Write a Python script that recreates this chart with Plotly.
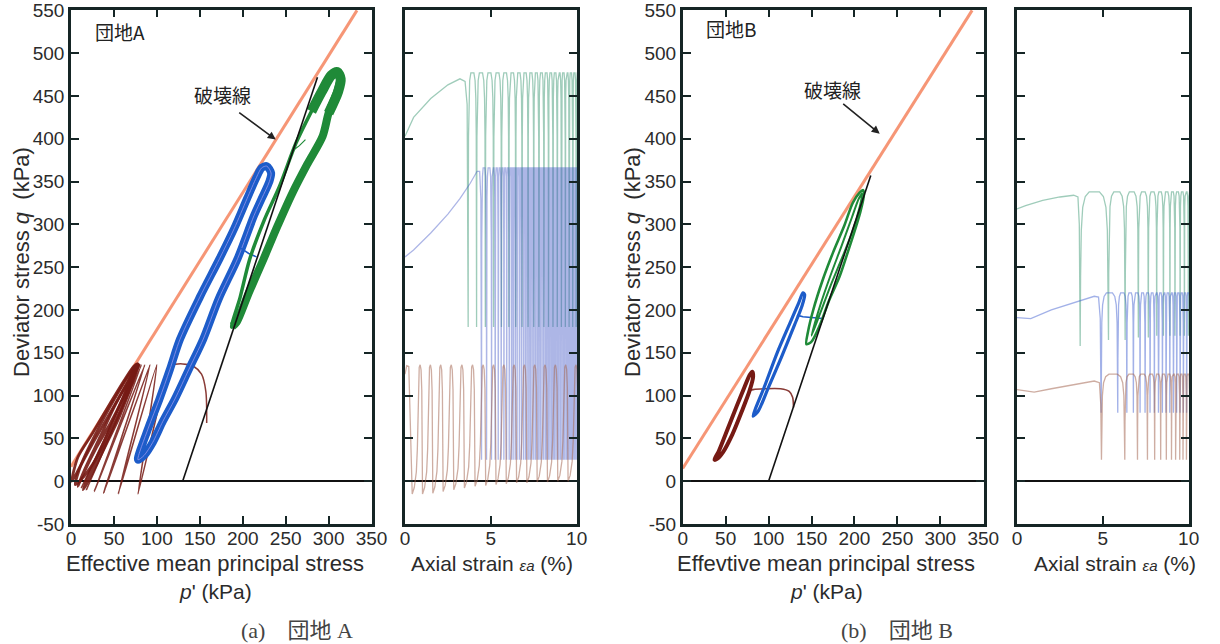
import plotly.graph_objects as go

W, H = 1220, 644

# ------------------------------------------------------------------ data
# failure line and total stress path (p', q)
failA_p = [0, 333]; failA_q = [17, 550]
failB_p = [0, 337]; failB_q = [15, 550]
tspA_p = [130, 287]; tspA_q = [0, 472]
tspB_p = [100, 219]; tspB_q = [0, 357]

# ---- site A, p'-q plane
greenA_p = [187, 197, 208, 225, 243, 262, 280, 295, 303, 310, 314, 310, 300, 293, 275, 258, 240, 224, 207, 193, 187]
greenA_q = [180, 215, 259, 305, 345, 395, 432, 460, 476, 478, 470, 455, 430, 403, 370, 337, 297, 259, 220, 186, 180]
greenA_band_p = [314, 310, 300, 293, 275, 258, 240, 224, 207, 193, 188]
greenA_band_q = [470, 455, 430, 403, 370, 337, 297, 259, 220, 186, 181]
greenA_top_p = [280, 292, 303, 310, 314, 311, 300]
greenA_top_q = [432, 455, 474, 478, 470, 455, 430]
greenA_init_p = [258, 266, 273]
greenA_init_q = [386, 392, 399]

blueA_p = [78, 90, 103, 115, 127, 150, 173, 190, 205, 216, 222, 228, 233, 231, 222, 213, 194, 172, 154, 137, 121, 107, 95, 85, 78]
blueA_q = [25, 62, 96, 130, 166, 215, 260, 295, 330, 355, 366, 368, 360, 350, 330, 310, 260, 213, 166, 130, 96, 70, 45, 30, 25]
blueA_init_p = [216, 207, 198]
blueA_init_q = [262, 266, 272]

# first cycles: arch from the consolidation line, then bottoms moving toward the origin
brownA_init_p = [158, 157, 152, 143, 130, 117, 110]
brownA_init_q = [68, 105, 125, 134, 137, 135, 122]
brownA_bot_p = [78, 55, 38, 27, 18, 12]
brownA_bot_q = [-15, -15, -14, -12, -10, -8]
brownA_top_p = [100, 92, 86, 82, 80]
brownA_top_q = 136
# stabilised loops (cyclic mobility) near the origin
brownA_l1_p = [14, 22, 38, 55, 68, 76, 79, 76, 66, 55, 42, 30, 20, 14]
brownA_l1_q = [-10, 10, 45, 85, 115, 134, 136, 128, 100, 72, 45, 20, 0, -10]
brownA_l2_p = [5, 12, 30, 50, 66, 75, 78, 74, 63, 50, 36, 22, 10, 5]
brownA_l2_q = [-4, 20, 58, 95, 122, 135, 137, 126, 96, 66, 38, 15, 0, -4]
brownA_l3_p = [1, 8, 25, 45, 62, 73, 77, 70, 56, 40, 24, 10, 1]
brownA_l3_q = [0, 28, 56, 90, 118, 134, 137, 122, 98, 70, 42, 16, 0]
brownA_l4_p = [8, 16, 34, 52, 67, 76, 78, 72, 60, 46, 30, 16, 8]
brownA_l4_q = [-6, 14, 52, 90, 118, 135, 136, 124, 96, 68, 40, 12, -6]

# ---- site B, p'-q plane
greenB_p = [144, 146, 152, 163, 175, 188, 198, 206, 210, 211, 207, 202, 193, 183, 170, 160, 150, 144]
greenB_q = [160, 175, 200, 235, 267, 298, 325, 337, 340, 335, 315, 298, 270, 240, 210, 183, 163, 160]
greenB_in_p = [150, 160, 172, 185, 197, 205, 209, 206, 197, 186, 172, 160, 150]
greenB_in_q = [170, 205, 240, 275, 308, 330, 336, 320, 290, 262, 228, 196, 170]

blueB_p = [82, 95, 110, 125, 135, 140, 142, 139, 130, 115, 100, 88, 82]
blueB_q = [76, 110, 150, 185, 208, 220, 218, 205, 182, 145, 110, 82, 76]
blueB_init_p = [163, 155, 140, 133]
blueB_init_q = [190, 191, 192, 194]

brownB_p = [37, 42, 52, 63, 72, 78, 81, 82, 78, 69, 58, 47, 40, 37]
brownB_q = [25, 35, 60, 88, 110, 124, 128, 122, 106, 82, 55, 34, 26, 25]
brownB_init_p = [129, 128, 124, 114, 95, 82, 78]
brownB_init_q = [86, 98, 105, 108, 108, 107, 106]

# ---- site A, axial strain (%) vs q
gA_init_s = [0, 0.5, 1.5, 2.5, 3.2, 3.5, 3.62]
gA_init_q = [403, 425, 447, 463, 470, 467, 440]
gA_trough_s = [3.68, 4.17, 4.68, 5.16, 5.62, 6.05, 6.45, 6.82, 7.17, 7.5, 7.8, 8.09, 8.36,
               8.62, 8.87, 9.11, 9.34, 9.56, 9.77, 9.97, 10.17]
gA_lo = 180; gA_hi = 477

bA_init_s = [0, 0.5, 1.5, 2.5, 3.2, 3.8, 4.2, 4.35, 4.42]
bA_init_q = [262, 270, 290, 312, 330, 348, 362, 362, 330]
bA_trough_s = [4.46, 4.75, 5.04, 5.25, 5.43, 5.6, 5.76, 5.92, 6.07, 6.2, 6.3, 6.42, 6.53, 6.66,
               6.78, 6.9, 7.01, 7.11, 7.21, 7.3, 7.4, 7.5, 7.6, 7.7, 7.79, 7.88, 7.98, 8.08,
               8.18, 8.26, 8.35, 8.44, 8.53, 8.62, 8.7, 8.79, 8.88, 8.96, 9.05, 9.14, 9.23,
               9.31, 9.4, 9.47, 9.55, 9.63, 9.71, 9.79, 9.87, 9.95, 10.03]
bA_lo = 25; bA_hi = 366

rA_init_s = [0, 0.1, 0.22, 0.34]
rA_init_q = [125, 135, 134, 60]
rA_trough_s = [0.42, 1.02, 1.62, 2.22, 2.84, 3.46, 4.08, 4.7, 5.3, 5.9, 6.5, 7.1, 7.7,
               8.3, 8.9, 9.5, 10.1]
rA_trough_q = [-15, -15, -14, -12, -10, -8, -6, -5, -4, -3, -2, -2, -1, -1, 0, 0, 0]
rA_hi = 136

# ---- site B, axial strain (%) vs q
gB_init_s = [0, 0.5, 1.5, 2.5, 3.3, 3.55, 3.63]
gB_init_q = [318, 322, 328, 332, 334, 332, 300]
gB_trough_s = [3.68, 5.33, 6.3, 7.07, 7.65, 8.14, 8.53, 8.91, 9.2, 9.5, 9.75, 9.98, 10.2]
gB_trough_q = [158, 165, 165, 168, 168, 170, 170, 170, 170, 170, 170, 170, 170]
gB_hi = 338

bB_init_s = [0, 0.8, 2, 3.5, 4.5, 4.75, 4.85]
bB_init_q = [191, 190, 200, 210, 216, 215, 190]
bB_trough_s = [4.9, 5.87, 6.4, 6.78, 7.17, 7.46, 7.75, 8.0, 8.24, 8.47, 8.68, 8.9, 9.11,
               9.3, 9.5, 9.69, 9.88, 10.07]
bB_lo = 80; bB_hi = 220

rB_init_s = [0, 1, 2, 3.5, 4.5, 4.8, 4.88]
rB_init_q = [107, 104, 108, 113, 117, 115, 90]
rB_trough_s = [4.92, 6.28, 7.02, 7.6, 8.02, 8.37, 8.7, 9.0, 9.24, 9.48, 9.67, 9.87, 10.06]
rB_lo = 25; rB_hi = 125

yticks = [-50, 0, 50, 100, 150, 200, 250, 300, 350, 400, 450, 500, 550]
ytick_text = ['-50', '0', '50', '100', '150', '200', '250', '300', '350', '400', '450', '500', '550']
pticks = [0, 50, 100, 150, 200, 250, 300, 350]
sticks = [0, 5, 10]

# ------------------------------------------------------------------ drawing helpers
# normalised outline of one load cycle between two troughs (drawing template)
ARCH = [(0, 0), (0.015, 0.45), (0.04, 0.75), (0.09, 0.9), (0.18, 0.97), (0.32, 1.0), (0.5, 1.0),
        (0.68, 1.0), (0.82, 0.97), (0.91, 0.9), (0.96, 0.75), (0.985, 0.45)]
RELOAD = [(0, 0), (0.2, 0.05), (0.4, 0.17), (0.5, 0.35), (0.55, 0.6), (0.6, 0.85), (0.68, 0.98),
          (0.77, 1.0), (0.86, 0.96), (0.93, 0.8), (0.97, 0.5)]


def cycles(init_s, init_q, troughs, lo, hi, tmpl):
    lo_list = lo if isinstance(lo, list) else [lo] * len(troughs)
    s, q = list(init_s), list(init_q)
    for i in range(len(troughs) - 1):
        t0, t1 = troughs[i], troughs[i + 1]
        w = t1 - t0
        a, b = lo_list[i], hi
        for fx, fq in tmpl:
            s.append(t0 + fx * w)
            q.append(a + fq * (b - a))
    s.append(troughs[-1]); q.append(lo_list[-1])
    return s, q


def fan(init_p, init_q, bot_p, bot_q, top_p, top_q):
    p, q = list(init_p), list(init_q)
    for i in range(len(bot_p)):
        p.append(bot_p[i]); q.append(bot_q[i])
        if i < len(top_p):
            p.append(top_p[i]); q.append(top_q)
    return p, q


fig = go.Figure()


def add(x, y, ax, color, width, shape='linear', smoothing=1.0, opacity=1.0):
    n = '' if ax == 1 else str(ax)
    fig.add_trace(go.Scatter(x=x, y=y, xaxis='x' + n, yaxis='y' + n, mode='lines',
                             line=dict(color=color, width=width, shape=shape, smoothing=smoothing),
                             opacity=opacity, hoverinfo='skip', showlegend=False))


FAIL = 'rgb(246,150,118)'
BLACK = '#111'
BROWN = '#761a14'
BLUE = '#1d5cc9'
GREEN = '#1f8a38'

# ---- panel A p'-q
add(failA_p, failA_q, 1, FAIL, 3)
add(brownA_init_p, brownA_init_q, 1, BROWN, 1.5, 'spline', 0.8, 0.85)
bp, bq = fan([], [], brownA_bot_p, brownA_bot_q, brownA_top_p, brownA_top_q)
add([brownA_init_p[-1]] + bp, [brownA_init_q[-1]] + bq, 1, BROWN, 1.6, 'spline', 0.4, 0.85)
for lp, lq in ((brownA_l1_p, brownA_l1_q), (brownA_l4_p, brownA_l4_q),
               (brownA_l2_p, brownA_l2_q), (brownA_l3_p, brownA_l3_q)):
    add(lp, lq, 1, BROWN, 2.8, 'spline', 0.8, 0.9)
add(blueA_p, blueA_q, 1, BLUE, 8, 'spline', 0.8)
add(blueA_p, blueA_q, 1, 'rgba(150,150,235,0.8)', 1, 'spline', 0.8)
add(blueA_init_p, blueA_init_q, 1, BLUE, 1.5)
add(greenA_p, greenA_q, 1, GREEN, 3.5, 'spline', 0.8)
add(greenA_band_p, greenA_band_q, 1, GREEN, 8, 'spline', 0.8)
add(greenA_top_p, greenA_top_q, 1, GREEN, 10, 'spline', 0.8)
add(greenA_init_p, greenA_init_q, 1, GREEN, 1.2)
add(tspA_p, tspA_q, 1, BLACK, 1.6)

# ---- panel A strain
s, q = cycles(gA_init_s, gA_init_q, gA_trough_s, gA_lo, gA_hi, ARCH)
add(s, q, 2, 'rgba(95,170,140,0.6)', 1.3)
s, q = cycles(bA_init_s, bA_init_q, bA_trough_s, bA_lo, bA_hi, ARCH)
add(s, q, 2, 'rgba(60,80,195,0.42)', 1.3)
s, q = cycles(rA_init_s, rA_init_q, rA_trough_s, rA_trough_q, rA_hi, RELOAD)
add(s, q, 2, 'rgba(165,105,85,0.55)', 1.3)

# ---- panel B p'-q
add(failB_p, failB_q, 3, FAIL, 3)
add(brownB_init_p, brownB_init_q, 3, BROWN, 1.6, 'spline', 0.8, 0.85)
add(brownB_p, brownB_q, 3, BROWN, 4, 'spline', 0.8)
add(blueB_init_p, blueB_init_q, 3, BLUE, 1.6)
add(blueB_p, blueB_q, 3, BLUE, 3.2, 'spline', 0.8)
add(greenB_p, greenB_q, 3, GREEN, 2.6, 'spline', 0.8)
add(greenB_in_p, greenB_in_q, 3, GREEN, 2, 'spline', 0.8)
add(tspB_p, tspB_q, 3, BLACK, 1.6)

# ---- panel B strain
s, q = cycles(gB_init_s, gB_init_q, gB_trough_s, gB_trough_q, gB_hi, ARCH)
add(s, q, 4, 'rgba(95,170,140,0.6)', 1.3)
s, q = cycles(bB_init_s, bB_init_q, bB_trough_s, bB_lo, bB_hi, ARCH)
add(s, q, 4, 'rgba(70,100,210,0.5)', 1.3)
s, q = cycles(rB_init_s, rB_init_q, rB_trough_s, rB_lo, rB_hi, ARCH)
add(s, q, 4, 'rgba(165,105,85,0.55)', 1.3)

# ------------------------------------------------------------------ axes
AX = '#152525'
TF = dict(family='Liberation Sans, Arial, sans-serif', size=19, color='#2b2b2b')
ydom = [1 - 524 / H, 1 - 9.5 / H]
common = dict(showline=True, linecolor=AX, linewidth=2.6, mirror='ticks', ticks='inside',
              ticklen=8, tickwidth=2, tickcolor=AX, showgrid=False, tickfont=TF,
              fixedrange=True, automargin=False)
xdoms = [[71 / W, 372 / W], [405 / W, 577 / W], [682.7 / W, 983.7 / W], [1017 / W, 1189 / W]]
lay = {}
for i in range(4):
    n = '' if i == 0 else str(i + 1)
    pq = i in (0, 2)
    lay['xaxis' + n] = dict(common, domain=xdoms[i], anchor='y' + n,
                            range=[0, 350.5] if pq else [0, 10.02],
                            tickvals=pticks if pq else sticks, zeroline=False,
                            ticklabelstandoff=-5)
    lay['yaxis' + n] = dict(common, domain=ydom, anchor='x' + n, range=[-50, 551],
                            tickvals=yticks, ticktext=ytick_text, showticklabels=pq,
                            zeroline=True, zerolinecolor=BLACK, zerolinewidth=2)

fig.update_layout(width=W, height=H, margin=dict(l=0, r=0, t=0, b=0, autoexpand=False),
                  paper_bgcolor='white', plot_bgcolor='white', **lay)

# ------------------------------------------------------------------ text
TXT = '#2b2b2b'
SANS = 'Liberation Sans, Arial, Noto Sans CJK JP, sans-serif'
CJK = 'Noto Sans CJK JP, sans-serif'
SERIF = 'Liberation Serif, Noto Sans CJK JP, serif'


def note(text, px, py, size=20, family=SANS, angle=0, xanchor='center', color=TXT):
    fig.add_annotation(text=text, x=px / W, y=1 - py / H, xref='paper', yref='paper',
                       showarrow=False, xanchor=xanchor, yanchor='middle', textangle=angle,
                       font=dict(family=family, size=size, color=color))


for cx, lab in ((215, 'Effective mean principal stress'), (826, 'Effevtive mean principal stress')):
    note(lab, cx, 563, size=22)
    note('<i>p</i>\' (kPa)', cx, 591, size=21)
for cx in (492, 1115):
    note("Axial strain <i><span style='font-size:15px'>εa</span></i> (%)", cx, 563, size=21)
for cx in (22, 633):
    note('Deviator stress <i>q</i>  (kPa)', cx, 262, size=22, angle=-90)

note('団地A', 93, 31, size=19, family=CJK, xanchor='left', color='#222')
note('団地B', 704, 29, size=19, family=CJK, xanchor='left', color='#222')
note('破壊線', 222, 95, size=19, family=CJK, color='#222')
note('破壊線', 833, 90, size=19, family=CJK, color='#222')
note('(a)　団地 A', 297, 630, size=22, family=SERIF, color='#444')
note('(b)　団地 B', 897, 630, size=22, family=SERIF, color='#444')

# arrows to the failure line
for xr, yr, hx, hy, axo, ayo in (('x', 'y', 238.4, 399, -38, -28), ('x3', 'y3', 229.4, 406, -38, -31)):
    fig.add_annotation(x=hx, y=hy, xref=xr, yref=yr, ax=axo, ay=ayo, text='', showarrow=True,
                       arrowhead=2, arrowsize=1, arrowwidth=1.6, arrowcolor='#222')

fig.write_html('out.html')
